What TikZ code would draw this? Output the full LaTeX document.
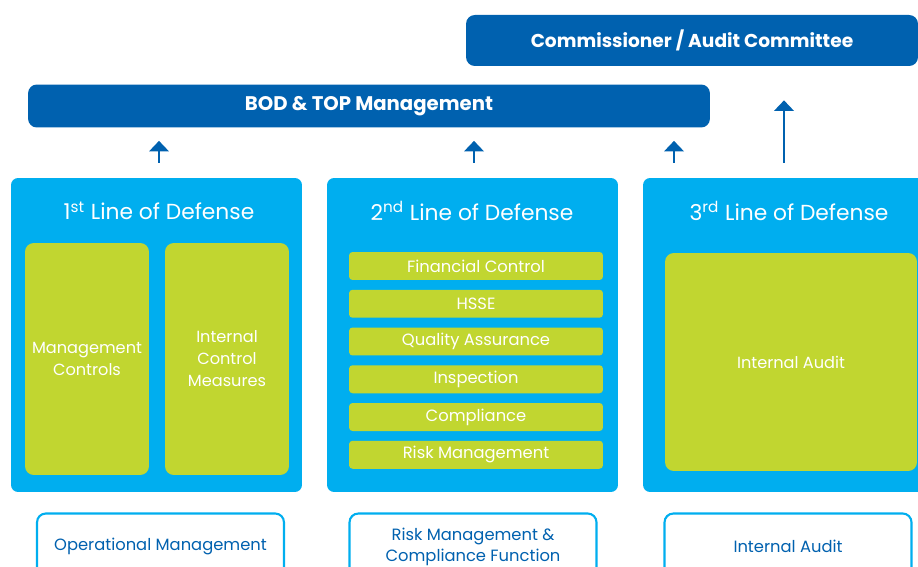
\documentclass[tikz,border=0pt]{standalone}
\usepackage{fontspec}
\setmainfont{Poppins}
\usetikzlibrary{arrows.meta}
\definecolor{darkblue}{HTML}{0061AF}
\definecolor{skyblue}{HTML}{00AEEF}
\definecolor{limegreen}{HTML}{C1D630}

\begin{document}
\begin{tikzpicture}[x=0.02cm,y=-0.02cm,
  bar/.style={fill=darkblue,rounded corners=5pt,inner sep=0pt,text=white,font=\bfseries\fontsize{10.9}{12}\selectfont},
  column/.style={fill=skyblue,rounded corners=4pt,minimum width=5.82cm,minimum height=6.28cm,inner sep=0pt},
  title/.style={text=white,font=\fontsize{12.4}{15}\selectfont},
  item/.style={fill=limegreen,rounded corners=2pt,minimum width=5.08cm,minimum height=0.56cm,inner sep=0pt,text=white,font=\fontsize{9.3}{12}\selectfont},
  block/.style={fill=limegreen,rounded corners=5pt,inner sep=0pt,text=white,align=center,font=\fontsize{9.2}{12.5}\selectfont},
  owner/.style={draw=skyblue,line width=1.2pt,fill=white,rounded corners=5pt,minimum width=4.94cm,minimum height=1.32cm,inner sep=0pt,text=darkblue,align=center,font=\fontsize{9.3}{12}\selectfont},
  arr/.style={-{Triangle[width=11pt,length=6pt]},darkblue,line width=1.6pt}]
  \useasboundingbox (0,0) rectangle (918,567);
  \clip (0,0) rectangle (918,567);

  % management bars
  \node[bar,minimum width=9.04cm,minimum height=1.02cm,font=\bfseries\fontsize{10.6}{12}\selectfont] (com) at (692,40.5) {Commissioner / Audit Committee};
  \node[bar,minimum width=13.64cm,minimum height=0.86cm,font=\bfseries\fontsize{11.2}{12}\selectfont] (bod) at (369,106) {BOD \& TOP Management};

  % the three lines
  \node[column] (c1) at (156.5,335) {};
  \node[column] (c2) at (472.5,335) {};
  \node[column] (c3) at (788.5,335) {};
  \node[title] (t1) at (159,211) {1\textsuperscript{st} Line of Defense};
  \node[title] (t2) at (472,211) {2\textsuperscript{nd} Line of Defense};
  \node[title] (t3) at (789,211) {3\textsuperscript{rd} Line of Defense};

  \node[block,minimum width=2.48cm,minimum height=4.64cm] (mc) at (87,359) {Management\\Controls};
  \node[block,minimum width=2.48cm,minimum height=4.64cm] (icm) at (227,359) {Internal\\Control\\Measures};
  \foreach \name [count=\i from 0] in {Financial Control,HSSE,Quality Assurance,Inspection,Compliance,Risk Management}
    \node[item] (s\i) at (476,266+37.75*\i) {\name};
  \node[block,minimum width=5.04cm,minimum height=4.36cm] (ia) at (791,362) {Internal Audit};

  % owners
  \node[owner] (o1) at (160.5,546.5) {Operational Management};
  \node[owner] (o2) at (473,546.5) {Risk Management \&\\Compliance Function};
  \node[owner] (o3) at (788,546.5) {Internal Audit};

  % arrows
  \coordinate (p1) at (159,0);
  \coordinate (p2) at (474,0);
  \coordinate (p3) at (674,0);
  \coordinate (p4) at (784,0);
  \draw[arr,shorten <=0.3cm,shorten >=0.26cm] (p1 |- c1.north) -- (p1 |- bod.south);
  \draw[arr,shorten <=0.3cm,shorten >=0.26cm] (p2 |- c2.north) -- (p2 |- bod.south);
  \draw[arr,shorten <=0.3cm,shorten >=0.26cm] (p3 |- c3.north) -- (p3 |- bod.south);
  \draw[arr,shorten <=0.3cm,shorten >=0.68cm] (p4 |- c3.north) -- (p4 |- com.south);
\end{tikzpicture}
\end{document}
